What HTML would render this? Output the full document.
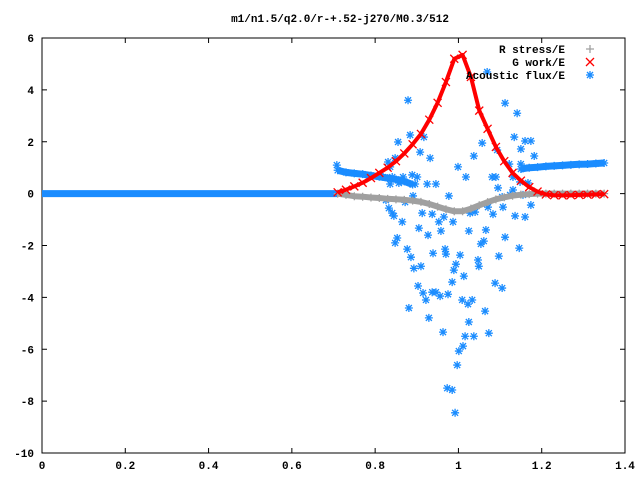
<!DOCTYPE html>
<html><head><meta charset="utf-8"><style>
html,body{margin:0;padding:0;background:#fff;}
svg{display:block;font-family:"Liberation Mono",monospace;font-weight:bold;font-size:11px;}
</style></head><body>
<svg id="chart" width="640" height="480" viewBox="0 0 640 480" xmlns="http://www.w3.org/2000/svg">
<rect x="0" y="0" width="640" height="480" fill="#fff"/>
<text x="340" y="22" text-anchor="middle">m1/n1.5/q2.0/r-+.52-j270/M0.3/512</text>
<g id="axes"></g>
<g id="series"></g>
<g id="legend"></g>
</svg>
<script>
const xTicks=[0,0.2,0.4,0.6,0.8,1,1.2,1.4];
const xTickLabels=["0","0.2","0.4","0.6","0.8","1","1.2","1.4"];
const yTicks=[6,4,2,0,-2,-4,-6,-8,-10];
const yTickLabels=["6","4","2","0","-2","-4","-6","-8","-10"];
const curveX=[0.71,0.73,0.75,0.77,0.79,0.81,0.83,0.85,0.87,0.89,0.91,0.93,0.95,0.97,0.99,1.01,1.03,1.05,1.07,1.09,1.11,1.13,1.15,1.17,1.19,1.21,1.23,1.25,1.27,1.29,1.31,1.33,1.35];
const gWork=[0.05,0.15,0.28,0.42,0.6,0.8,1.0,1.25,1.55,1.9,2.3,2.85,3.5,4.3,5.2,5.35,4.5,3.2,2.5,1.8,1.25,0.8,0.5,0.25,0.08,-0.03,-0.06,-0.07,-0.06,-0.05,-0.04,-0.03,-0.02];
const rStress=[0,-0.05,-0.1,-0.12,-0.15,-0.17,-0.2,-0.22,-0.24,-0.27,-0.32,-0.4,-0.5,-0.6,-0.68,-0.68,-0.58,-0.45,-0.33,-0.22,-0.14,-0.08,-0.04,-0.02,0,0,0,0,0,0,0,0,0];
const fluxZeroX=[0,0.71];
const fluxZeroY=[0,0];
const fluxLeftX=[0.71,0.73,0.75,0.77,0.79,0.81,0.83,0.85,0.87,0.89];
const fluxLeftY=[0.9,0.82,0.78,0.75,0.7,0.65,0.6,0.55,0.47,0.35];
const fluxRightX=[1.15,1.17,1.19,1.21,1.23,1.25,1.27,1.29,1.31,1.33,1.35];
const fluxRightY=[0.95,1.0,1.02,1.05,1.07,1.09,1.11,1.13,1.14,1.16,1.18];
const scatterX=[0.833,0.841,0.845,0.865,0.905,0.927,0.958,0.853,0.848,0.877,0.886,0.893,0.910,0.939,0.968,0.970,1.004,0.994,0.989,1.013,0.985,1.025,1.066,1.061,1.054,1.112,1.097,1.146,1.047,1.049,1.088,1.105,0.903,0.915,0.922,0.937,0.946,0.956,0.975,0.881,0.929,1.009,1.033,1.023,1.064,1.025,0.963,1.016,1.037,1.073,1.011,1.001,0.997,0.973,0.985,0.992,0.913,0.937,0.953,0.987,0.965,1.028,1.040,1.071,1.083,1.107,1.136,1.160,1.174,
0.879,0.855,0.884,0.917,0.908,0.932,0.831,0.848,0.836,0.819,0.841,0.836,0.867,0.857,0.889,0.901,0.896,0.925,0.946,0.999,1.018,1.037,1.057,1.093,1.081,1.090,1.095,1.112,1.141,1.134,1.150,1.150,1.122,1.160,1.174,1.182,1.131,1.148,1.167,1.131,1.069,0.977,0.891,0.826,0.872,1.105,1.124,1.155,0.708];
const scatterY=[-0.56,-0.75,-0.86,-1.09,-1.33,-1.60,-1.44,-1.71,-1.90,-2.14,-2.45,-2.88,-2.80,-2.30,-2.14,-2.33,-2.37,-2.72,-2.95,-3.18,-3.41,-1.44,-1.40,-1.83,-1.94,-1.68,-2.41,-2.10,-2.56,-2.80,-3.45,-3.64,-3.56,-3.83,-4.10,-3.80,-3.80,-3.95,-3.88,-4.41,-4.79,-4.10,-4.10,-4.26,-4.53,-4.95,-5.34,-5.50,-5.50,-5.38,-5.88,-6.07,-6.61,-7.50,-7.57,-8.45,-0.75,-0.79,-1.09,-1.09,-0.90,-0.75,-0.71,-0.52,-0.79,-0.52,-0.86,-0.90,-0.44,
3.60,1.99,2.26,2.18,1.60,1.37,1.22,1.37,1.03,0.64,0.64,0.37,0.64,0.41,0.72,0.64,0.37,0.37,0.37,1.03,0.64,1.45,1.95,1.68,0.64,0.64,0.22,3.49,3.10,2.18,1.72,1.14,1.14,2.03,2.03,1.45,0.64,0.45,0.41,0.14,4.69,-0.09,-0.09,-0.25,-0.33,-0.13,-0.05,-0.05,1.1];

const NS="http://www.w3.org/2000/svg";
const L=42,R=625,T=38,B=453,xMin=0,xMax=1.4,yMin=-10,yMax=6;
function sx(v){return L+(v-xMin)/(xMax-xMin)*(R-L);}
function sy(v){return B-(v-yMin)/(yMax-yMin)*(B-T);}
function mk(tag,attrs,parent){const e=document.createElementNS(NS,tag);for(const k in attrs)e.setAttribute(k,attrs[k]);parent.appendChild(e);return e;}
const axes=document.getElementById('axes');
const ser=document.getElementById('series');
const leg=document.getElementById('legend');

xTicks.forEach((v,i)=>{
  const x=sx(v);
  const t1=mk('line',{x1:x,y1:B,x2:x,y2:B-5,stroke:'#000'},axes);
  
  
  const t2=mk('line',{x1:x,y1:T,x2:x,y2:T+5,stroke:'#000'},axes);
  
  
  const lb=mk('text',{x:x,y:B+16,'text-anchor':'middle'},axes);
  lb.textContent=xTickLabels[i];
  
  
});
yTicks.forEach((v,i)=>{
  const y=sy(v);
  const t1=mk('line',{x1:L,y1:y,x2:L+5,y2:y,stroke:'#000'},axes);
  
  
  const t2=mk('line',{x1:R,y1:y,x2:R-5,y2:y,stroke:'#000'},axes);
  
  
  const lb=mk('text',{x:L-8,y:y+4,'text-anchor':'end'},axes);
  lb.textContent=yTickLabels[i];
  
  
});
const frame=mk('rect',{x:L,y:T,width:R-L,height:B-T,fill:'none',stroke:'#000'},axes);



function band(xs,ys,color,w,name){
  let d='';
  xs.forEach((v,i)=>{d+=(i?'L':'M')+sx(v).toFixed(1)+','+sy(ys[i]).toFixed(1);});
  const p=mk('path',{d:d,fill:'none',stroke:color,'stroke-width':w,'stroke-linejoin':'round'},ser);
  
  
}
function plus(x,y,c,g){mk('path',{d:`M${x-4},${y}h8M${x},${y-4}v8`,stroke:c,'stroke-width':1.3,fill:'none'},g);}
function cross(x,y,c,g){mk('path',{d:`M${x-4},${y-4}l8,8M${x-4},${y+4}l8,-8`,stroke:c,'stroke-width':1.3,fill:'none'},g);}
function star(x,y,c,g){mk('path',{d:`M${x-4},${y}h8M${x},${y-4}v8M${x-3},${y-3}l6,6M${x-3},${y+3}l6,-6`,stroke:c,'stroke-width':1.3,fill:'none'},g);}

const BLUE='#1a8cff',RED='#ff0000',GRAY='#a0a0a0';
// acoustic flux
band(fluxZeroX,fluxZeroY,BLUE,7,'acoustic-flux-zero-band');
band(fluxLeftX,fluxLeftY,BLUE,7,'acoustic-flux-left-band');
band(fluxRightX,fluxRightY,BLUE,7,'acoustic-flux-right-band');
const sg=mk('g',{},ser);


scatterX.forEach((v,i)=>star(sx(v),sy(scatterY[i]),BLUE,sg));
fluxLeftX.forEach((v,i)=>star(sx(v),sy(fluxLeftY[i]),BLUE,sg));
fluxRightX.forEach((v,i)=>star(sx(v),sy(fluxRightY[i]),BLUE,sg));
// gray R stress
band(curveX,rStress,GRAY,6,'r-stress-band');
const gg=mk('g',{},ser);


curveX.forEach((v,i)=>plus(sx(v),sy(rStress[i]),GRAY,gg));
// red G work
band(curveX,gWork,RED,4,'g-work-band');
const rg=mk('g',{},ser);


curveX.forEach((v,i)=>cross(sx(v),sy(gWork[i]),RED,rg));

// legend
const legItems=[["R stress/E",GRAY,plus,'legend-r-stress'],["G work/E",RED,cross,'legend-g-work'],["Acoustic flux/E",BLUE,star,'legend-acoustic-flux']];
legItems.forEach((it,i)=>{
  const y=49+i*13;
  const g=mk('g',{},leg);
  
  
  const t=mk('text',{x:565,y:y+4,'text-anchor':'end'},g);
  t.textContent=it[0];
  it[2](590,y,it[1],g);
});
</script>
</body></html>
